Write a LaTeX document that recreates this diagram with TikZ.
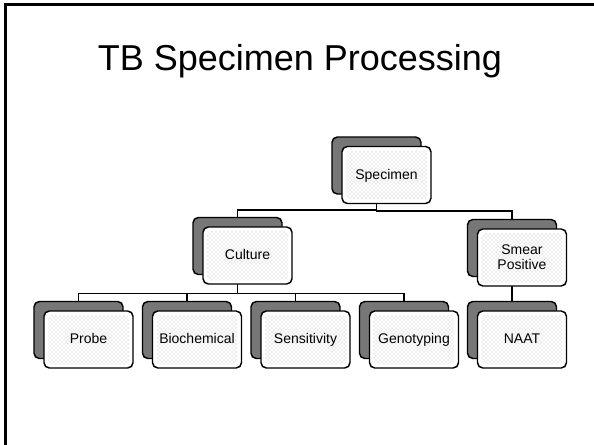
\documentclass[tikz,border=0pt]{standalone}
\usepackage{fontspec}
\setmainfont{Liberation Sans}
\usetikzlibrary{patterns,backgrounds}

\tikzset{every picture/.style={line width=0.75pt}}
\tikzset{
  backbox/.style={draw=black, line width=1.1pt, fill={rgb, 255:red, 119; green, 119; blue, 119}, rounded corners=4pt,
    minimum width=66.75pt, minimum height=42.75pt, inner sep=0pt, outer sep=0pt},
  frontbox/.style={draw=black, line width=1.1pt, fill=white, rounded corners=4pt,
    minimum width=66.75pt, minimum height=42.75pt, inner sep=0pt, outer sep=0pt, align=center,
    text height=8pt, text depth=2pt,
    font=\fontsize{10.5}{11}\selectfont,
    path picture={\fill[pattern=crosshatch dots, pattern color=black!30, rounded corners=3pt]
      ([shift={(3pt,3pt)}]path picture bounding box.south west) rectangle
      ([shift={(-3pt,-3pt)}]path picture bounding box.north east);}},
  twoline/.style={text height=, text depth=},
  link/.style={draw=black, line width=1.1pt}
}

\begin{document}
\begin{tikzpicture}[x=0.75pt,y=0.75pt,yscale=-1,xscale=1]
\useasboundingbox (0,0) rectangle (594,444);
\clip (0,0) rectangle (594,444);

%Slide frame
\draw [line width=2.25pt] (5,4.5) rectangle (595,448);

% Title
\node (title) at (300,61) {\fontsize{27}{30}\selectfont TB Specimen Processing};

%Top level
\node [backbox] (specB) at (376.5,165.5) {};
\node [frontbox] (spec) at (386.5,175) {Specimen};

%Second level
\node [backbox] (cultB) at (237.5,246) {};
\node [frontbox] (cult) at (247.5,255.5) {Culture};
\node [backbox] (smearB) at (512,248) {};
\node [frontbox, twoline] (smear) at (522,257.5) {Smear\\Positive};

%Third level
\node [backbox] (probeB) at (78.5,330) {};
\node [frontbox] (probe) at (88.5,339.5) {Probe};
\node [backbox] (biochB) at (187,330) {};
\node [frontbox] (bioch) at (197,339.5) {Biochemical};
\node [backbox] (sensB) at (295.5,330) {};
\node [frontbox] (sens) at (305.5,339.5) {Sensitivity};
\node [backbox] (genoB) at (404,330) {};
\node [frontbox] (geno) at (414,339.5) {Genotyping};
\node [backbox] (naatB) at (512,330) {};
\node [frontbox] (naat) at (522,339.5) {NAAT};

%Connectors
\begin{scope}[on background layer]
\draw [link] (specB.south) -- ++(0,16) -| (cultB.north);
\draw [link] (specB.south) -- ++(0,17) -| (smearB.north);
\draw [link] (cultB.south) -- ++(0,19) -| (probeB.north);
\draw [link] (cultB.south) -- ++(0,19) -| (biochB.north);
\draw [link] (cultB.south) -- ++(0,19) -| (sensB.north);
\draw [link] (cultB.south) -- ++(0,19) -| (genoB.north);
\draw [link] (smearB.south) -- (naatB.north);
\end{scope}

\end{tikzpicture}
\end{document}
